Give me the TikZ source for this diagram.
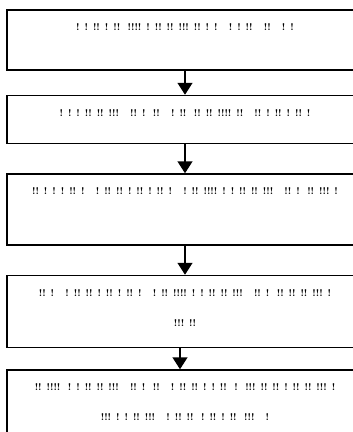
\documentclass[tikz,border=0pt]{standalone}
\usepackage{xcolor}
\usepackage{tikz}
\usetikzlibrary{positioning,arrows.meta}

\begin{document}
\begin{tikzpicture}[
    box/.style={draw, rectangle, line width=1.5pt, minimum width=356pt, inner sep=0pt},
    boxtext/.style={anchor=north, yshift=-11pt, align=center, font=\fontsize{9.8}{30}\selectfont\bfseries},
    arrow/.style={-{Triangle[width=15pt,length=12pt]}, line width=1.5pt}
]
    \useasboundingbox (0,0) rectangle (353pt,-432pt);
    \clip (0,0) rectangle (353pt,-432pt);

    % Nodes
    \node (first) [box, minimum height=60pt] at (185pt,-40pt) {};
    \node (firstlabel) [boxtext] at (first.north) {! ! !! ! !!~~!!!! ! !! !! !!! !! ! !~~~! ! !!~~~!!~~~! !};
    \node (second) [box, minimum height=48pt, below=24pt of first] {};
    \node (secondlabel) [boxtext] at (second.north) {! ! ! !! !! !!!~~~!! !~~!!~~~! !!~~!! !! !!!! !!~~~!! ! !! ! !! !};
    \node (third) [box, minimum height=71pt, below=29pt of second] {};
    \node (thirdlabel) [boxtext] at (third.north) {!! ! ! ! !! !~~~! !! !! ! !! ! !! !~~~! !! !!!! ! ! !! !! !!!~~~!! !~~!! !!! !};
    \node (fourth) [box, minimum height=72pt, below=29pt of third] {};
    \node (fourthlabel) [boxtext] at (fourth.north) {!! !~~~! !! !! ! !! ! !! !~~~! !! !!!! ! ! !! !! !!!~~~!! !~~!! !! !! !!! !\\ !!! !!};
    \node (fifth) [box, minimum height=80pt, below=21pt of fourth] {};
    \node (fifthlabel) [boxtext] at (fifth.north) {!! !!!!~~! ! !! !! !!!~~~!! !~~!!~~~! !! !! ! ! !!~~!~~!!! !! !! ! !! !! !!! !\\ !!! ! ! !! !!!~~~! !! !!~~! !! ! !!~~!!!~~~!};

    % Arrows
    \draw[arrow] (first) -- (second);
    \draw[arrow] (second) -- (third);
    \draw[arrow] (third) -- (fourth);
    \draw[arrow] ([xshift=-5pt]fourth.south) -- ([xshift=-5pt]fifth.north);
\end{tikzpicture}
\end{document}
